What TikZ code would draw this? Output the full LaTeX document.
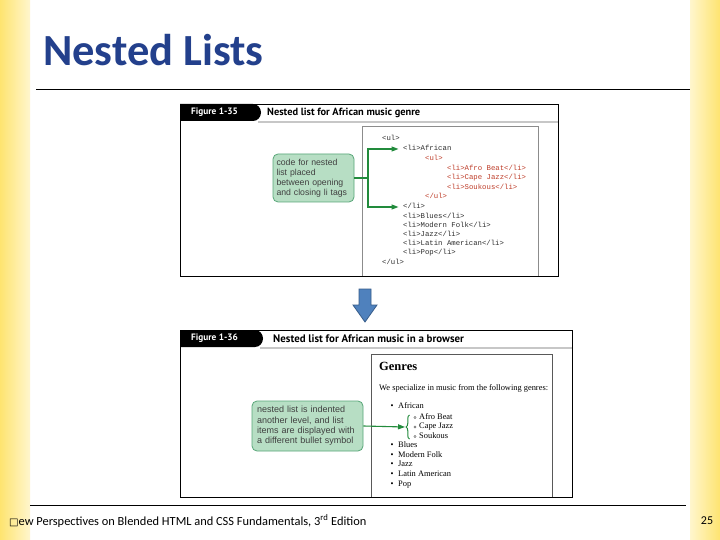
\documentclass[tikz,border=0pt]{standalone}
\usepackage{fontspec}
\setmainfont{Liberation Serif}
\newfontfamily\calibri{Carlito}
\newfontfamily\ptsans{PT Sans}
\newfontfamily\arial{Liberation Sans}
\newfontfamily\mono{Liberation Mono}
\newfontfamily\djv{DejaVu Sans}
\usetikzlibrary{arrows.meta,decorations.pathreplacing}
\definecolor{titleblue}{RGB}{35,64,140}
\definecolor{gfill}{RGB}{183,222,196}
\definecolor{gborder}{RGB}{88,166,120}
\definecolor{garr}{RGB}{34,139,60}
\definecolor{codered}{RGB}{190,60,40}
\definecolor{codeblack}{RGB}{45,45,45}
\definecolor{bluefill}{RGB}{79,129,189}
\definecolor{blueedge}{RGB}{56,93,138}
\definecolor{ystrong}{RGB}{254,228,112}
\definecolor{ypale}{RGB}{255,246,205}
\tikzset{
  code/.style={anchor=west,inner sep=0pt,text height=5pt,text depth=1.5pt,
    font=\mono\fontsize{7.3}{8}\selectfont,text=codeblack},
  redcode/.style={code,text=codered},
  callout/.style={draw=gborder,fill=gfill,rounded corners=5pt,line width=0.8pt,align=left,
    text=black!75,inner xsep=3.5pt,inner ysep=0pt},
  garrow/.style={draw=garr,line width=1.1pt,-{Triangle[length=7pt,width=5pt]}},
  gline/.style={draw=garr,line width=1.1pt},
  figbox/.style={draw=black,line width=0.8pt},
  tablabel/.style={anchor=west,inner sep=0pt,text=white,font=\ptsans\bfseries\fontsize{9.3}{10}\selectfont},
  headlabel/.style={anchor=west,inner sep=0pt},
  item/.style={anchor=west,inner sep=0pt,text height=5.6pt,text depth=1.8pt,font=\fontsize{8.4}{9}\selectfont},
  bul/.style={anchor=west,inner sep=0pt,text height=5.6pt,text depth=1.8pt,font=\fontsize{8.4}{9}\selectfont},
}
\begin{document}
\begin{tikzpicture}[x=1pt,y=-1pt]
\useasboundingbox (0,0) rectangle (720,540);
\fill[white] (0,0) rectangle (720,540);
% yellow side bands
\shade[left color=ystrong,right color=ypale] (0,0) rectangle (30,540);
\shade[left color=ypale,right color=ystrong] (690,0) rectangle (720,540);

% title
\node[anchor=west,inner sep=0pt,text=titleblue,font=\calibri\bfseries\fontsize{44.5}{48}\selectfont] (title) at (43,50) {Nested Lists};
\draw[line width=1pt] (36,90) -- (690,90);

% ---------- Figure 1-35 ----------
\draw[figbox] (180,104) rectangle (558,276);
\fill[black!22] (258,121) rectangle (558,123);
\fill[black] (180,104) -- (253,104) to[out=0,in=90] (261,112.5) to[out=-90,in=0] (253,121) -- (180,121) -- cycle;
\node[tablabel] (fig1) at (191,112.5) {Figure 1-35};
\node[headlabel,font=\ptsans\bfseries\fontsize{10.4}{12}\selectfont] (head1) at (267,112.5) {Nested list for African music genre};
\draw[black!45,line width=0.6pt] (362,276) -- (362,126) -- (538,126) -- (538,276);

\node[code] (a1) at (382,139) {<ul>};
\node[code] (a2) at (403,149) {<li>African};
\node[redcode] (a3) at (425,159) {<ul>};
\node[redcode] (a4) at (447,168.5) {<li>Afro Beat</li>};
\node[redcode] (a5) at (447,178) {<li>Cape Jazz</li>};
\node[redcode] (a6) at (447,187.5) {<li>Soukous</li>};
\node[redcode] (a7) at (425,197) {</ul>};
\node[code] (a8) at (403,207) {</li>};
\node[code] (a9) at (403,216.5) {<li>Blues</li>};
\node[code] (a10) at (403,225.5) {<li>Modern Folk</li>};
\node[code] (a11) at (403,234.5) {<li>Jazz</li>};
\node[code] (a12) at (403,244) {<li>Latin American</li>};
\node[code] (a13) at (403,253) {<li>Pop</li>};
\node[code] (a14) at (382,263) {</ul>};

\node[callout,text width=74pt,minimum height=48pt,font=\arial\fontsize{8.7}{10}\selectfont] (c1) at (313.5,178)
  {code for nested\\list placed\\between opening\\and closing li tags};
\coordinate (j1) at (368,178);
\draw[gline] (c1.east) -- (j1);
\draw[garrow] (j1) |- ([xshift=-4.5pt]a2.west);
\draw[garrow] (j1) |- ([xshift=-4.5pt]a8.west);

% blue arrow
\draw[fill=bluefill,draw=blueedge,line width=0.8pt] (359,289) -- (371,289) -- (371,305) -- (377,305) -- (365,322) -- (353,305) -- (359,305) -- cycle;

% ---------- Figure 1-36 ----------
\draw[figbox] (180,330) rectangle (572,497);
\fill[black!22] (260,346.5) rectangle (572,349);
\fill[black] (180,330) -- (255,330) to[out=0,in=90] (263,338.5) to[out=-90,in=0] (255,347) -- (180,347) -- cycle;
\node[tablabel] (fig2) at (191,338.5) {Figure 1-36};
\node[headlabel,font=\ptsans\bfseries\fontsize{10.9}{12}\selectfont] (head2) at (273,338.5) {Nested list for African music in a browser};
\draw[black!65,line width=0.7pt] (371,497) -- (371,354) -- (552,354) -- (552,497);

\node[anchor=west,inner sep=0pt,font=\bfseries\fontsize{12.5}{13}\selectfont] (genres) at (379,366) {Genres};
\node[item] (intro) at (379,389) {We specialize in music from the following genres:};

\node[bul] (b1) at (390.5,407) {•};
\node[item] (i1) at (398,407) {African};
\foreach \yy/\nm/\tx in {417.5/s1/Afro Beat,427/s2/Cape Jazz,436.5/s3/Soukous}{
  \draw[black!70,line width=0.4pt] (415,\yy) circle (1.1);
  \node[item] (\nm) at (419,\yy) {\tx};
}
\foreach \yy/\nm/\tx in {446/i2/Blues,455.5/i3/Modern Folk,465/i4/Jazz,475/i5/Latin American,485/i6/Pop}{
  \node[bul] at (390.5,\yy) {•};
  \node[item] (\nm) at (398,\yy) {\tx};
}

\node[callout,inner xsep=5pt,text width=101pt,minimum height=50pt,font=\arial\fontsize{9}{10.3}\selectfont] (c2) at (307.5,426)
  {nested list is indented\\another level, and list\\items are displayed with\\a different bullet symbol};
\draw[garr,line width=1pt,decorate,decoration={brace,amplitude=3.5pt}] (409.5,439) -- (409.5,415);
\coordinate (bt) at (405,427);
\draw[garrow] (c2.east) -- (bt);

% footer
\draw[line width=1pt] (30,505) -- (686,505);
\node[anchor=west,inner sep=0pt,font=\calibri\fontsize{12.4}{14}\selectfont] (foot) at (9,521)
  {{\djv\bfseries\fontsize{10}{12}\selectfont □}ew Perspectives on Blended HTML and CSS Fundamentals, 3\textsuperscript{rd} Edition};
\node[anchor=center,inner sep=0pt,font=\calibri\fontsize{12}{14}\selectfont] (pg) at (707,521) {25};
\end{tikzpicture}
\end{document}
